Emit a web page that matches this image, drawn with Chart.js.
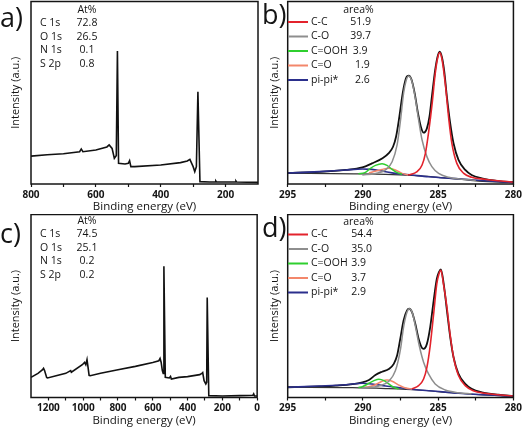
<!DOCTYPE html>
<html>
<head>
<meta charset="utf-8">
<script src="https://cdn.jsdelivr.net/npm/chart.js@4.4.1/dist/chart.umd.min.js"></script>
<style>
  html, body { margin: 0; padding: 0; background: #fff; }
  #fig { position: relative; width: 524px; height: 428px; overflow: hidden; }
  #fig canvas { position: absolute; }
</style>
</head>
<body>
<div id="fig">
  <canvas id="pa" width="262" height="214" style="left:0;top:0"></canvas>
  <canvas id="pb" width="262" height="214" style="left:262px;top:0"></canvas>
  <canvas id="pc" width="262" height="214" style="left:0;top:214px"></canvas>
  <canvas id="pd" width="262" height="214" style="left:262px;top:214px"></canvas>
</div>
<script>
// survey spectra (binding energy in eV, intensity in % of plot height)
const surveyA_eV = [800, 750, 700, 650, 645, 640, 600, 566, 559, 550, 543, 538, 537, 533.5, 530, 510, 500, 496, 492, 480, 400, 339, 318, 310, 300, 295, 290, 285.3, 279, 250, 232, 230, 228, 170, 168, 166, 100];
const surveyA = [15.3, 16.0, 16.6, 17.7, 19.2, 17.7, 18.6, 20.3, 21.4, 19.5, 14.1, 15.3, 15.5, 72.9, 11.3, 11.0, 11.3, 12.8, 9.5, 9.5, 10.4, 11.7, 12.6, 13.5, 9.5, 6.8, 9.5, 50.6, 1.3, 1.1, 1.1, 1.6, 1.1, 1.1, 1.6, 1.1, 0.9];

const surveyC_eV = [1300, 1260, 1235, 1228, 1222, 1210, 1205, 1150, 1100, 1072, 1068, 1005, 992, 985, 978, 972, 966, 960, 900, 800, 700, 600, 565, 558, 552, 545, 540, 536, 528, 505, 498, 493, 450, 400, 330, 318, 313, 305, 295, 290, 287, 278, 200, 100, 25, 20, 15, 0];
const surveyC = [11.0, 13.2, 15.1, 16.0, 14.7, 11.0, 10.7, 12.0, 13.2, 14.7, 13.8, 17.9, 19.2, 17.9, 20.7, 16.5, 12.1, 11.9, 13.2, 15.2, 17.0, 19.1, 20.1, 21.4, 19.3, 14.7, 13.2, 71.7, 11.0, 10.7, 11.5, 10.1, 11.0, 11.4, 12.5, 13.2, 13.6, 9.2, 7.4, 8.3, 54.7, 1.0, 0.8, 1.0, 1.2, 2.0, 0.8, 0.8];

const atLabels = ['C 1s', 'O 1s', 'N 1s', 'S 2p'];
const atA = ['72.8', '26.5', '0.1', '0.8'];
const atC = ['74.5', '25.1', '0.2', '0.2'];

// C 1s fits, panel b
const bEnv_eV = [295, 292.9, 291.15, 290.04, 289.4, 288.7, 288.3, 288.0, 287.8, 287.58, 287.36, 287.14, 286.96, 286.78, 286.56, 286.34, 286.12, 285.97, 285.75, 285.58, 285.42, 285.2, 285.05, 284.9, 284.75, 284.6, 284.42, 284.2, 283.98, 283.65, 283.2, 282.78, 282.1, 281, 280];
const bEnv = [6.0, 6.6, 7.7, 9.1, 11.3, 14.1, 16.8, 20.4, 25.9, 36.9, 49.7, 57.9, 59.4, 57.4, 49.7, 38.7, 30.5, 28.1, 30.5, 36.9, 47.8, 62.5, 69.5, 72.5, 69.5, 62.0, 47.8, 33.2, 22.3, 13.2, 7.7, 4.9, 3.1, 1.6, 1.0];
const bCC_eV = [287.0, 286.4, 286.07, 285.85, 285.63, 285.4, 285.2, 285.05, 284.9, 284.75, 284.53, 284.3, 284.09, 283.76, 283.3, 282.78, 281.9, 280];
const bCC = [4.9, 6.8, 10.4, 16.8, 28.7, 44.2, 60.3, 68.5, 72.0, 68.5, 55.0, 36.0, 22.3, 11.3, 5.8, 3.7, 2.6, 1.0];
const bCO_eV = [290.04, 289.16, 288.5, 288.06, 287.73, 287.5, 287.3, 287.12, 286.96, 286.74, 286.52, 286.3, 286.07, 285.75, 285.42, 284.97, 284.3, 283.4, 282.5];
const bCO = [4.9, 5.8, 7.7, 12.2, 21.4, 35.1, 49.7, 57.0, 59.2, 56.1, 46.9, 35.1, 24.1, 15.0, 9.5, 5.8, 3.7, 2.6, 2.0];
const bCOOH_eV = [290.3, 289.87, 289.5, 289.17, 288.73, 288.4, 288.06, 287.73, 287.4];
const bCOOH = [5.6, 6.2, 8.6, 10.2, 11.1, 10.2, 8.0, 6.2, 5.3];
const bCdO_eV = [289.6, 289.28, 288.73, 288.28, 287.84, 287.4, 287.0];
const bCdO = [6.0, 6.8, 8.0, 8.6, 7.7, 5.8, 4.9];
const bPi_eV = [295, 292.9, 291.15, 290.04, 289.4, 288.73, 287.84, 286.74, 285.63, 284.53, 283.2, 281.9, 280];
const bPi = [6.0, 6.8, 7.7, 8.2, 8.0, 7.1, 5.8, 4.9, 4.0, 3.3, 2.6, 1.8, 0.8];
const bBg_eV = [295, 290.6, 288.5, 286.74, 285.2, 283.65, 282.33, 280];
const bBg = [6.0, 5.6, 5.3, 4.7, 3.8, 2.7, 1.6, 0.8];
const bArea = ['51.9', '39.7', '3.9', '1.9', '2.6'];

// C 1s fits, panel d
const dEnv_eV = [295, 291.8, 290.04, 289.6, 289.17, 288.73, 288.28, 287.95, 287.73, 287.5, 287.3, 287.07, 286.92, 286.74, 286.52, 286.3, 286.08, 285.97, 285.75, 285.53, 285.3, 285.09, 284.95, 284.82, 284.64, 284.42, 284.2, 283.98, 283.65, 283.2, 282.78, 282.1, 281, 280];
const dEnv = [5.6, 6.5, 8.3, 9.6, 12.3, 14.1, 15.6, 18.4, 22.9, 33.0, 42.1, 47.6, 48.5, 46.7, 40.3, 32.1, 27.1, 26.6, 29.3, 38.5, 53.0, 64.9, 68.5, 70.0, 62.5, 47.6, 33.0, 22.0, 12.9, 7.4, 4.7, 2.8, 1.5, 0.8];
const dCC_eV = [286.74, 286.3, 285.97, 285.75, 285.53, 285.3, 285.09, 284.95, 284.82, 284.64, 284.42, 284.2, 283.98, 283.65, 283.2, 282.67, 281.9, 280];
const dCC = [4.7, 6.5, 10.1, 16.5, 28.4, 45.8, 62.2, 67.5, 69.5, 61.5, 49.4, 33.9, 22.0, 12.0, 6.5, 3.7, 2.3, 0.8];
const dCO_eV = [290.04, 288.94, 288.28, 287.84, 287.5, 287.3, 287.07, 286.92, 286.7, 286.48, 286.26, 285.97, 285.64, 285.2, 284.53, 283.65, 282.78];
const dCO = [5.2, 6.3, 8.9, 14.7, 26.6, 38.5, 46.7, 48.5, 45.8, 37.5, 28.4, 19.3, 12.9, 7.4, 4.1, 2.6, 2.0];
const dCOOH_eV = [290.3, 290.04, 289.6, 289.27, 288.94, 288.6, 288.28, 287.95, 287.62];
const dCOOH = [5.5, 5.9, 7.8, 9.2, 10.0, 9.2, 7.4, 5.6, 4.7];
const dCdO_eV = [289.9, 289.6, 289.17, 288.73, 288.4, 288.06, 287.62, 287.18, 286.74];
const dCdO = [5.6, 5.9, 7.0, 8.9, 9.6, 8.9, 6.8, 5.2, 4.7];
const dPi_eV = [295, 292.9, 291.15, 290.04, 289.4, 288.5, 287.4, 286.3, 285.2, 283.65, 282.33, 280];
const dPi = [5.6, 6.3, 7.0, 7.8, 7.4, 6.3, 5.2, 4.1, 3.4, 2.3, 1.6, 0.8];
const dBg_eV = [295, 290.7, 288.5, 286.3, 284.1, 282.33, 280];
const dBg = [5.6, 5.4, 4.9, 4.1, 2.6, 1.6, 0.8];
const dArea = ['54.4', '35.0', '3.9', '3.7', '2.9'];

const compNames = ['C-C', 'C-O', 'C=OOH', 'C=O', 'pi-pi*'];
const compColors = ['#e3232c', '#8e8e8e', '#2fcf2f', '#f3876b', '#2b2f8c'];

const surveyTicks = [800, 700, 600, 500, 400, 300, 200];
const surveyTicksC = [1200, 1100, 1000, 900, 800, 700, 600, 500, 400, 300, 200, 100, 0];
const c1sTicks = [295, 292.5, 290, 287.5, 285, 282.5, 280];

const ink = '#141414';
const font = 'Open Sans';

const frame = {
  id: 'frame',
  afterDatasetsDraw(chart) {
    const { ctx, chartArea: a } = chart;
    ctx.save();
    ctx.strokeStyle = ink;
    ctx.lineWidth = 1.5;
    ctx.strokeRect(a.left, a.top, a.right - a.left, a.bottom - a.top);
    ctx.restore();
  }
};

const notes = {
  id: 'notes',
  afterDraw(chart, args, opts) {
    const ctx = chart.ctx;
    ctx.save();
    ctx.fillStyle = ink;
    ctx.textBaseline = 'alphabetic';
    ctx.font = '27px "' + font + '"';
    ctx.textAlign = 'left';
    ctx.fillText(opts.label, 0, opts.labelY);
    ctx.textBaseline = 'middle';
    ctx.font = '10.5px "' + font + '"';
    (opts.lines || []).forEach(l => {
      ctx.strokeStyle = l.color;
      ctx.lineWidth = 2;
      ctx.beginPath();
      ctx.moveTo(l.x1, l.y);
      ctx.lineTo(l.x2, l.y);
      ctx.stroke();
    });
    (opts.texts || []).forEach(t => {
      ctx.textAlign = t.align || 'left';
      ctx.fillText(t.t, t.x, t.y);
    });
    ctx.restore();
  }
};

function series(eV, val, color, width, smooth) {
  return {
    data: eV.map((x, i) => ({ x: x, y: val[i] })),
    borderColor: color,
    borderWidth: width,
    pointRadius: 0,
    fill: false,
    tension: 0,
    cubicInterpolationMode: smooth ? 'monotone' : 'default'
  };
}

function panel(id, p) {
  new Chart(document.getElementById(id), {
    type: 'line',
    data: { datasets: p.datasets },
    plugins: [frame, notes],
    options: {
      responsive: false,
      animation: false,
      events: [],
      layout: { padding: { top: p.top, right: p.right, left: 0, bottom: 0 } },
      plugins: {
        legend: { display: false },
        tooltip: { enabled: false },
        notes: p.notes
      },
      scales: {
        x: {
          type: 'linear',
          reverse: true,
          min: p.min,
          max: p.max,
          afterBuildTicks: s => { s.ticks = p.ticks.map(v => ({ value: v })); },
          afterFit: s => { s.height = p.xh; },
          ticks: {
            font: { family: font, size: 10, weight: 'bold' },
            color: ink,
            padding: 2,
            maxRotation: 0,
            autoSkip: false,
            callback: v => (v % p.every === 0 ? String(v) : '')
          },
          grid: { drawOnChartArea: false, tickLength: 3, tickColor: ink, tickWidth: 1.2 },
          border: { display: false },
          title: {
            display: true, text: 'Binding energy (eV)', color: ink,
            font: { family: font, size: 11.5 }, padding: { top: 0, bottom: 0 }
          }
        },
        y: {
          min: 0,
          max: 100,
          afterFit: s => { s.width = p.yw; },
          ticks: { display: false },
          grid: { display: false },
          border: { display: false },
          title: {
            display: true, text: 'Intensity (a.u.)', color: ink,
            font: { family: font, size: 11 }, padding: { top: p.ytp, bottom: 0 }
          }
        }
      }
    }
  });
}

function atNotes(label, labelY, vals, y0) {
  const texts = [{ t: 'At%', x: 87, y: y0, align: 'center' }];
  atLabels.forEach((n, i) => {
    texts.push({ t: n, x: 40, y: y0 + 13.5 * (i + 1) });
    texts.push({ t: vals[i], x: 87, y: y0 + 13.5 * (i + 1), align: 'center' });
  });
  return { label: label, labelY: labelY, texts: texts };
}

function fitNotes(label, labelY, vals, y0, valX) {
  const texts = [{ t: 'area%', x: 96.5, y: y0, align: 'center' }];
  const lines = [];
  compNames.forEach((n, i) => {
    const y = y0 + 12 + 14.5 * i;
    lines.push({ x1: 26, x2: 46, y: y, color: compColors[i] });
    texts.push({ t: n, x: 49, y: y });
    texts.push({ t: vals[i], x: valX[i], y: y });
  });
  return { label: label, labelY: labelY, texts: texts, lines: lines };
}

function fitSets(cc, co, cooh, cdo, pi, bg, env) {
  return [
    series(cc[0], cc[1], compColors[0], 1.6, true),
    series(co[0], co[1], compColors[1], 1.5, true),
    series(cooh[0], cooh[1], compColors[2], 1.5, true),
    series(cdo[0], cdo[1], compColors[3], 1.5, true),
    series(pi[0], pi[1], compColors[4], 1.6, true),
    series(bg[0], bg[1], '#333', 1.2, true),
    series(env[0], env[1], '#111', 1.8, true)
  ];
}

panel('pa', {
  datasets: [series(surveyA_eV, surveyA, '#111', 1.6, false)],
  min: 100, max: 800, ticks: surveyTicks, every: 200,
  top: 1.5, right: 4, xh: 30, yw: 31, ytp: 9.4,
  notes: atNotes('a)', 27, atA, 10)
});

panel('pb', {
  datasets: fitSets([bCC_eV, bCC], [bCO_eV, bCO], [bCOOH_eV, bCOOH], [bCdO_eV, bCdO], [bPi_eV, bPi], [bBg_eV, bBg], [bEnv_eV, bEnv]),
  min: 280, max: 295, ticks: c1sTicks, every: 5,
  top: 1.5, right: 9.4, xh: 30, yw: 25.7, ytp: 6.7,
  notes: fitNotes('b)', 24, bArea, 10, [88.3, 88.3, 90.7, 93, 93])
});

panel('pc', {
  datasets: [series(surveyC_eV, surveyC, '#111', 1.6, false)],
  min: 0, max: 1300, ticks: surveyTicksC, every: 200,
  top: 0.5, right: 4.7, xh: 30.5, yw: 31, ytp: 9.4,
  notes: atNotes('c)', 29, atC, 7)
});

panel('pd', {
  datasets: fitSets([dCC_eV, dCC], [dCO_eV, dCO], [dCOOH_eV, dCOOH], [dCdO_eV, dCdO], [dPi_eV, dPi], [dBg_eV, dBg], [dEnv_eV, dEnv]),
  min: 280, max: 295, ticks: c1sTicks, every: 5,
  top: 0.5, right: 9.4, xh: 30.5, yw: 25.7, ytp: 6.7,
  notes: fitNotes('d)', 23, dArea, 8.5, [89.3, 89.3, 89.3, 89.3, 89.3])
});
</script>
</body>
</html>
